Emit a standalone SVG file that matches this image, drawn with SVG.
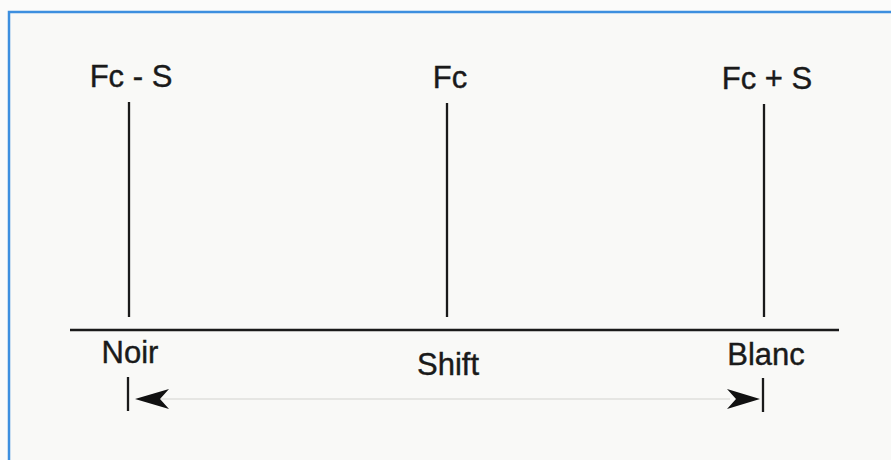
<svg xmlns="http://www.w3.org/2000/svg" width="891" height="460" viewBox="0 0 891 460">
<style>
.lbl{font-family:"Liberation Sans",Arial,Helvetica,sans-serif;font-size:31px;fill:#1a1a1a;stroke:#1a1a1a;stroke-width:0.4;text-anchor:middle}
.ln{stroke:#1a1a1a;stroke-width:2.3;fill:none}
.thin{stroke:#d4d4d0;stroke-width:1.2;fill:none}
.head{fill:#111}
</style>
<rect x="0" y="0" width="891" height="460" fill="#fbfbfa"/>
<rect x="9" y="12" width="900" height="470" fill="#f9f9f7" stroke="#3d8fdf" stroke-width="2.5"/>
<g id="axis">
<line class="ln" x1="70" y1="330" x2="839" y2="330"/>
</g>
<g id="node-fc-minus-s">
<line class="ln" x1="129" y1="102" x2="129" y2="317"/>
<text class="lbl" x="131" y="87">Fc - S</text>
</g>
<g id="node-fc">
<line class="ln" x1="447" y1="103" x2="447" y2="317"/>
<text class="lbl" x="450" y="88">Fc</text>
</g>
<g id="node-fc-plus-s">
<line class="ln" x1="764" y1="104" x2="764" y2="317"/>
<text class="lbl" x="767" y="89">Fc + S</text>
</g>
<g id="node-noir">
<text class="lbl" x="130" y="363">Noir</text>
<line class="ln" x1="128" y1="377" x2="128" y2="411"/>
</g>
<g id="node-shift">
<text class="lbl" x="448" y="375">Shift</text>
</g>
<g id="node-blanc">
<text class="lbl" x="766" y="365">Blanc</text>
<line class="ln" x1="763" y1="378" x2="763" y2="412"/>
</g>
<g id="connectors">
<line class="thin" x1="160" y1="399" x2="730" y2="399"/>
<path class="head" d="M135,399 L169,389 L160,399 L169,409 Z"/>
<path class="head" d="M760,399 L727,389 L736,399 L727,409 Z"/>
</g>
</svg>
